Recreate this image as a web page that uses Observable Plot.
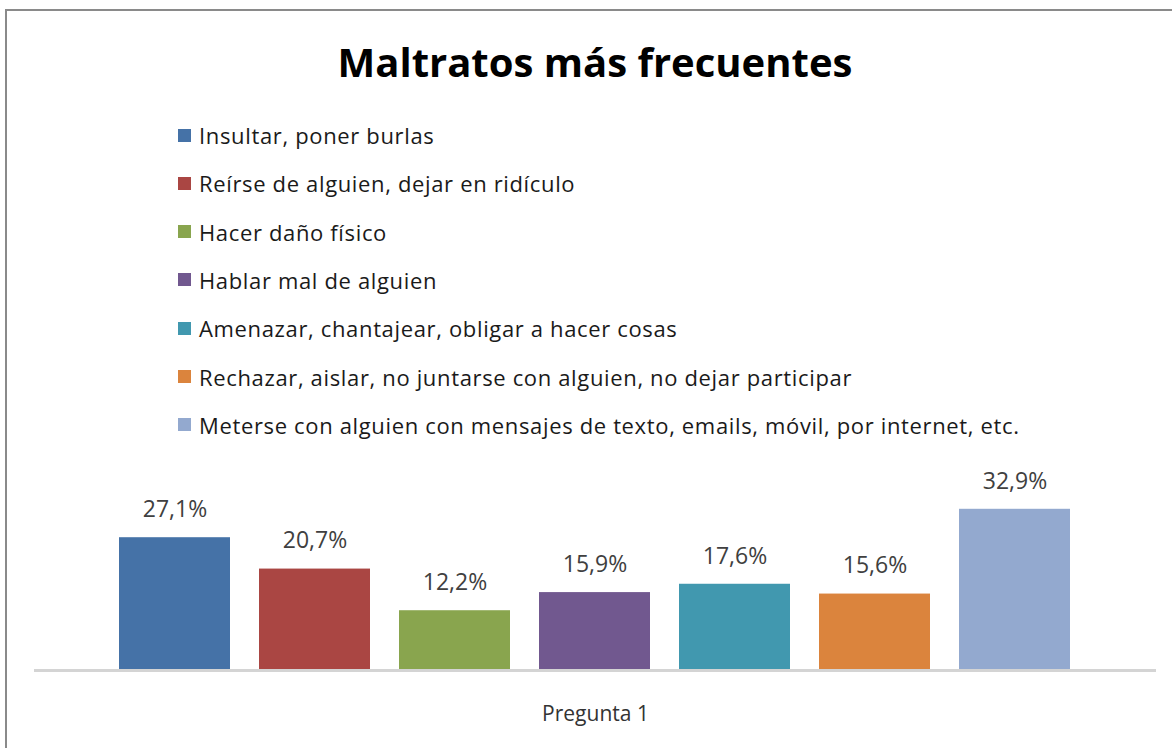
<!DOCTYPE html>
<html>
<head>
<meta charset="utf-8">
<script src="https://cdn.jsdelivr.net/npm/d3@7"></script>
<script src="https://cdn.jsdelivr.net/npm/@observablehq/plot@0.6"></script>
<style>
  html, body { margin: 0; padding: 0; background: #fff; overflow: hidden; }
  #wrap { position: relative; width: 1172px; height: 748px; overflow: hidden; font-family: "Open Sans", Lato, sans-serif; }
  #frame { position: absolute; left: 5px; top: 9px; width: 1300px; height: 900px; border: 2px solid #8a8a8a; box-sizing: border-box; }
  #title { position: absolute; left: 0; width: 1190px; top: 42px; line-height: 40px; text-align: center; font-weight: 700; font-size: 40px; color: #000; }
  #legend { position: absolute; left: 178px; top: 122px; }
  .row { position: absolute; left: 0; white-space: nowrap; display: flex; align-items: center; font-size: 22px; letter-spacing: 0.65px; line-height: 26px; color: #1a1a1a; }
  .sw { width: 13px; height: 13px; margin-right: 8px; }
  #chart { position: absolute; left: 0; top: 450px; }
</style>
</head>
<body>
<div id="wrap">
  <div id="frame"></div>
  <div id="title">Maltratos más frecuentes</div>
  <div id="legend"></div>
  <div id="chart"></div>
</div>
<script>
const categories = ["Pregunta 1"];
const series = [
  "Insultar, poner burlas",
  "Reírse de alguien, dejar en ridículo",
  "Hacer daño físico",
  "Hablar mal de alguien",
  "Amenazar, chantajear, obligar a hacer cosas",
  "Rechazar, aislar, no juntarse con alguien, no dejar participar",
  "Meterse con alguien con mensajes de texto, emails, móvil, por internet, etc."
];
const values = [27.1, 20.7, 12.2, 15.9, 17.6, 15.6, 32.9];
const labels = ["27,1%", "20,7%", "12,2%", "15,9%", "17,6%", "15,6%", "32,9%"];
const colors = ["#4572A7", "#AA4643", "#89A54E", "#71588F", "#4198AF", "#DB843D", "#93A9CF"];

const data = series.map((s, i) => ({cat: categories[0], series: s, value: values[i], label: labels[i]}));

// legend
const legend = document.getElementById("legend");
series.forEach((s, i) => {
  const row = document.createElement("div");
  row.className = "row";
  row.style.top = (i * 48.3) + "px";
  const sw = document.createElement("span");
  sw.className = "sw";
  sw.style.background = colors[i];
  const t = document.createElement("span");
  t.textContent = s;
  row.appendChild(sw);
  row.appendChild(t);
  legend.appendChild(row);
});

const chart = Plot.plot({
  width: 1172,
  height: 298,
  marginLeft: 34,
  marginRight: 16,
  marginTop: 24,
  marginBottom: 78,
  style: {fontFamily: "'Open Sans', sans-serif", background: "transparent", overflow: "visible"},
  fx: {domain: categories, padding: 0, label: null},
  x: {domain: series, axis: null, paddingInner: 0.207, paddingOuter: 0.61},
  y: {domain: [0, 40], axis: null},
  color: {domain: series, range: colors},
  marks: [
    Plot.axisFx({anchor: "bottom", tickSize: 0, tickPadding: 36, fontSize: 21, fill: "#333", label: null, style: {letterSpacing: "0.6px"}}),
    Plot.barY(data, {fx: "cat", x: "series", y: "value", fill: "series"}),
    Plot.ruleY([0], {stroke: "#d4d4d4", strokeWidth: 3}),
    Plot.text(data, {fx: "cat", x: "series", y: "value", text: "label", dy: -28, fontSize: 23, fill: "#404040", style: {letterSpacing: "0.4px"}})
  ]
});
document.getElementById("chart").appendChild(chart);
</script>
</body>
</html>
